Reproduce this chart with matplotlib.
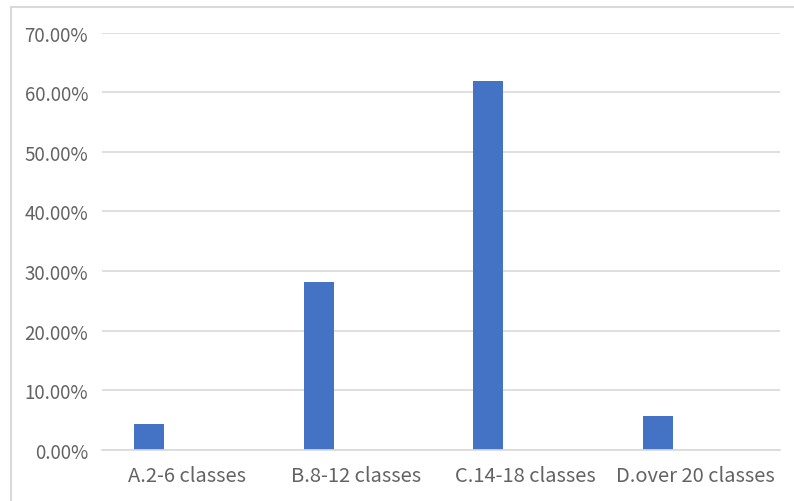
import matplotlib.pyplot as plt
from matplotlib.lines import Line2D
from matplotlib.ticker import FuncFormatter, MultipleLocator

plt.rcParams['font.family'] = ['Noto Sans CJK SC', 'DejaVu Sans']

# share of respondents per weekly class count
categories = ["A.2-6 classes", "B.8-12 classes", "C.14-18 classes", "D.over 20 classes"]
shares = [0.043, 0.281, 0.619, 0.0565]

BAR_COLOR = "#4472C4"
GRID_COLOR = "#D9D9D9"
TEXT_COLOR = "#636363"

fig = plt.figure(figsize=(7.94, 5.02), dpi=100)
ax = fig.add_axes([102 / 794, 51.3 / 502, 678 / 794, 417 / 502])

x = list(range(len(categories)))
# bars sit left of the category centre (empty second series slot on the right)
ax.bar([i - 0.221 for i in x], shares, width=0.177, color=BAR_COLOR, zorder=3)

ax.set_xlim(-0.5, len(categories) - 0.5)
ax.set_ylim(0, 0.70)
ax.yaxis.set_major_locator(MultipleLocator(0.10))
ax.yaxis.set_major_formatter(FuncFormatter(lambda v, _: f"{v * 100:.2f}%"))
ax.set_xticks(x)
ax.set_xticklabels(categories)

ax.grid(axis="y", color=GRID_COLOR, linewidth=1.2, zorder=0)
for side in ("top", "right", "left"):
    ax.spines[side].set_visible(False)
ax.spines["bottom"].set_color(GRID_COLOR)
ax.spines["bottom"].set_linewidth(1.2)
ax.spines["bottom"].set_zorder(4)

ax.tick_params(axis="both", length=0, colors=TEXT_COLOR)
ax.tick_params(axis="y", pad=10, labelsize=13.5)
ax.tick_params(axis="x", pad=11, labelsize=14.5)

# chart frame: top and left edges
fig.add_artist(Line2D([11 / 794, 1.0], [1 - 8 / 502, 1 - 8 / 502],
                      transform=fig.transFigure, color=GRID_COLOR, linewidth=1.5))
fig.add_artist(Line2D([11 / 794, 11 / 794], [1 - 8 / 502, 0.0],
                      transform=fig.transFigure, color=GRID_COLOR, linewidth=1.5))

fig.savefig("out.png", dpi=100)
